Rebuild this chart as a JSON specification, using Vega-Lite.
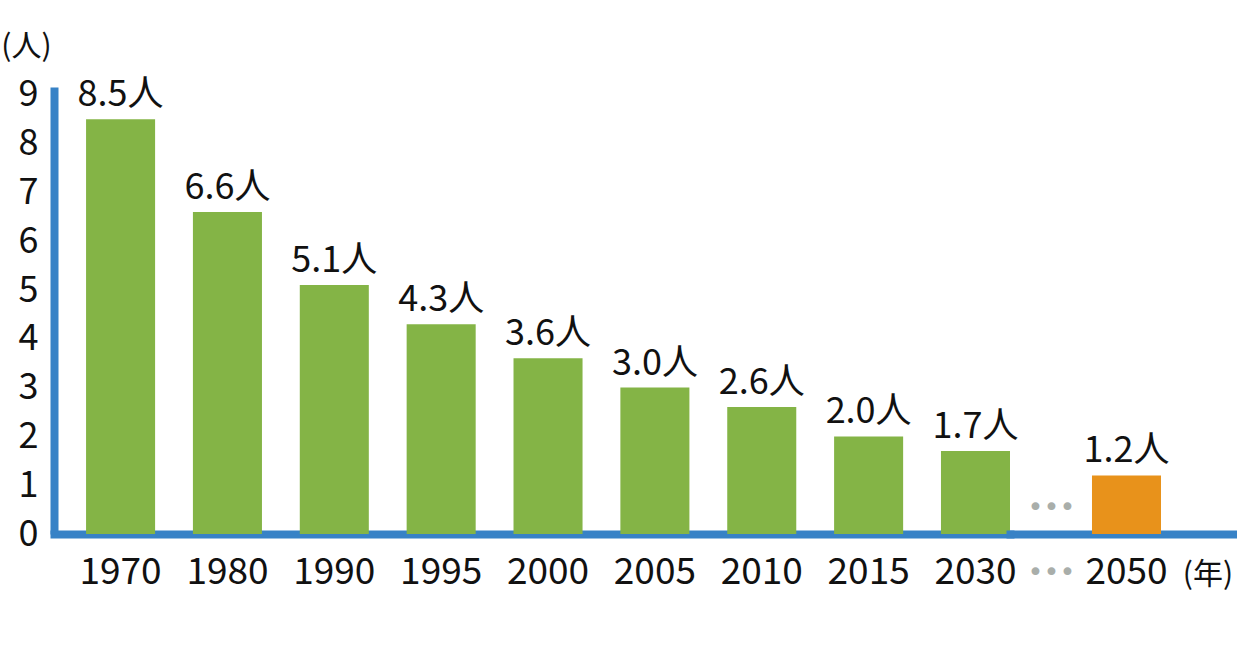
{
  "$schema": "https://vega.github.io/schema/vega-lite/v6.json",
  "padding": {"left": 0, "top": 31, "right": 0, "bottom": 30},
  "background": "white",
  "spacing": 0,
  "bounds": "flush",
  "datasets": {
    "main": [
      {"year": "1970", "value": 8.5, "label": "8.5人"},
      {"year": "1980", "value": 6.6, "label": "6.6人"},
      {"year": "1990", "value": 5.1, "label": "5.1人"},
      {"year": "1995", "value": 4.3, "label": "4.3人"},
      {"year": "2000", "value": 3.6, "label": "3.6人"},
      {"year": "2005", "value": 3.0, "label": "3.0人"},
      {"year": "2010", "value": 2.6, "label": "2.6人"},
      {"year": "2015", "value": 2.0, "label": "2.0人"},
      {"year": "2030", "value": 1.7, "label": "1.7人"}
    ],
    "tail": [
      {"year": "…", "label": "•••"},
      {"year": "2050", "value": 1.2, "label": "1.2人"}
    ]
  },
  "config": {
    "view": {"stroke": null},
    "font": "Noto Sans CJK JP",
    "axis": {
      "grid": false,
      "ticks": false,
      "tickSize": 0,
      "domainColor": "#3782c6",
      "domainWidth": 8,
      "labelColor": "#111111",
      "labelFont": "Noto Sans CJK JP",
      "titleFont": "Noto Sans CJK JP",
      "titleFontWeight": "normal",
      "titleColor": "#111111",
      "labelFlush": false,
      "labelOverlap": false
    }
  },
  "hconcat": [
    {
      "width": 956,
      "height": 447,
      "data": {"name": "main"},
      "encoding": {
        "x": {
          "field": "year",
          "type": "nominal",
          "sort": null,
          "scale": {"paddingInner": 0.354, "paddingOuter": 0.15, "align": 1},
          "axis": {
            "title": null,
            "labelAngle": 0,
            "labelFontSize": 37,
            "labelBaseline": "middle",
            "labelPadding": 38,
            "domainCap": "square"
          }
        },
        "y": {
          "field": "value",
          "type": "quantitative",
          "scale": {"domain": [0, 9.16], "nice": false},
          "axis": {
            "title": "(人)",
            "titleAngle": 0,
            "titleX": -28,
            "titleY": -41,
            "titleAlign": "center",
            "titleBaseline": "middle",
            "titleFontSize": 30,
            "values": [0, 1, 2, 3, 4, 5, 6, 7, 8, 9],
            "labelFontSize": 36,
            "labelPadding": 16,
            "labelBaseline": "middle",
            "domainCap": "butt"
          }
        }
      },
      "layer": [
        {"mark": {"type": "bar", "color": "#84b446"}},
        {
          "mark": {"type": "text", "baseline": "alphabetic", "dy": -13, "fontSize": 36, "color": "#111111"},
          "encoding": {"text": {"field": "label"}}
        }
      ]
    },
    {
      "width": 227,
      "height": 447,
      "data": {"name": "tail"},
      "encoding": {
        "x": {
          "field": "year",
          "type": "nominal",
          "sort": null,
          "scale": {"domain": ["…", "2050"], "paddingInner": 0.08, "paddingOuter": 0.553, "align": 0.084},
          "axis": {
            "title": "(年)",
            "titleX": 197.5,
            "titleY": 40,
            "titleAlign": "center",
            "titleBaseline": "middle",
            "titleAngle": 0,
            "titleFontSize": 30,
            "labelAngle": 0,
            "labelExpr": "datum.value == '…' ? '•••' : datum.label",
            "labelFontSize": {"condition": {"test": "datum.value == '…'", "value": 27}, "value": 37},
            "labelFont": {"condition": {"test": "datum.value == '…'", "value": "DejaVu Sans"}, "value": "Noto Sans CJK JP"},
            "labelColor": {"condition": {"test": "datum.value == '…'", "value": "#a9aeaa"}, "value": "#111111"},
            "labelBaseline": "middle",
            "labelPadding": 38,
            "domainCap": "square"
          }
        }
      },
      "layer": [
        {
          "mark": {"type": "bar", "color": "#e8921b"},
          "encoding": {
            "y": {"field": "value", "type": "quantitative", "scale": {"domain": [0, 9.16], "nice": false}, "axis": null}
          }
        },
        {
          "mark": {"type": "text", "baseline": "alphabetic", "dy": -13, "fontSize": 36, "color": "#111111"},
          "encoding": {
            "y": {"field": "value", "type": "quantitative", "scale": {"domain": [0, 9.16], "nice": false}, "axis": null},
            "text": {"field": "label"}
          }
        },
        {
          "transform": [{"filter": "datum.year == '…'"}],
          "mark": {"type": "text", "font": "DejaVu Sans", "fontSize": 27, "color": "#a9aeaa", "baseline": "middle", "dy": -26},
          "encoding": {
            "y": {"datum": 0, "type": "quantitative", "scale": {"domain": [0, 9.16], "nice": false}, "axis": null},
            "text": {"field": "label"}
          }
        }
      ]
    }
  ]
}
